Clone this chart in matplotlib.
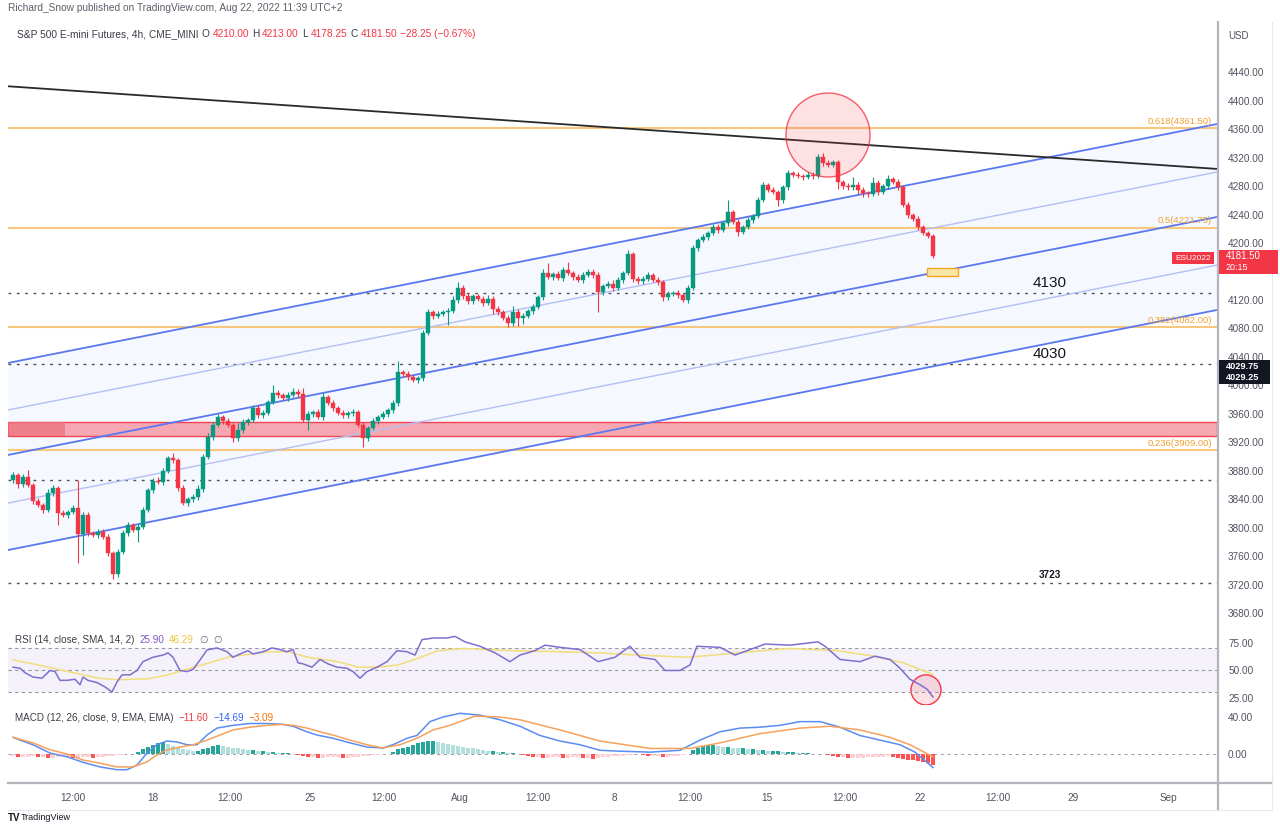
import matplotlib
matplotlib.use("Agg")
import matplotlib.pyplot as plt
from matplotlib.patches import Ellipse, Rectangle
from matplotlib.lines import Line2D

plt.rcParams['font.family'] = ['Liberation Sans', 'DejaVu Sans']

# ---------------- data ----------------
first_open = 3867
closes = [3874, 3862, 3872, 3860, 3838, 3832, 3825, 3849, 3856, 3821,
          3818, 3822, 3828, 3792, 3818, 3793, 3790, 3795, 3788, 3765,
          3735, 3766, 3793, 3804, 3797, 3802, 3825, 3853, 3866, 3865,
          3880, 3898, 3895, 3856, 3835, 3840, 3843, 3855, 3900, 3928,
          3945, 3956, 3950, 3945, 3926, 3937, 3949, 3952, 3968, 3958,
          3962, 3977, 3989, 3987, 3982, 3987, 3991, 3988, 3952, 3960,
          3963, 3956, 3984, 3975, 3968, 3962, 3958, 3961, 3963, 3945,
          3926, 3940, 3950, 3956, 3960, 3965, 3975, 4019, 4016, 4012,
          4008, 4010, 4074, 4103, 4098, 4101, 4103, 4105, 4120, 4137,
          4125, 4118, 4125, 4122, 4116, 4122, 4108, 4103, 4095, 4088,
          4103, 4095, 4098, 4105, 4110, 4124, 4158, 4152, 4156, 4151,
          4162, 4158, 4152, 4148, 4155, 4160, 4155, 4131, 4140, 4143,
          4137, 4148, 4158, 4184, 4150, 4146, 4150, 4155, 4148, 4145,
          4124, 4128, 4130, 4127, 4120, 4137, 4193, 4204, 4208, 4214,
          4222, 4218, 4228, 4244, 4230, 4216, 4222, 4232, 4238, 4260,
          4281, 4275, 4272, 4260, 4278, 4298, 4296, 4294, 4293, 4296,
          4294, 4321, 4312, 4310, 4313, 4286, 4280, 4278, 4282, 4274,
          4270, 4269, 4284, 4272, 4280, 4290, 4286, 4278, 4253, 4239,
          4234, 4222, 4214, 4210, 4181.5]
upper_wick = [4, 3, 4, 9, 3, 4, 3, 6, 4, 3,
              4, 3, 4, 39, 4, 5, 3, 4, 3, 4,
              3, 5, 4, 4, 3, 4, 4, 3, 4, 5,
              4, 3, 7, 3, 4, 3, 4, 5, 4, 5,
              4, 4, 3, 4, 3, 10, 4, 3, 5, 4,
              4, 3, 11, 4, 3, 4, 5, 4, 8, 4,
              3, 4, 6, 3, 4, 3, 4, 3, 4, 3,
              4, 3, 4, 3, 4, 3, 4, 15, 3, 4,
              3, 4, 4, 5, 3, 4, 3, 4, 6, 8,
              4, 5, 4, 3, 4, 5, 3, 4, 3, 4,
              8, 5, 4, 3, 4, 3, 5, 14, 4, 5,
              4, 12, 3, 4, 5, 4, 3, 4, 3, 4,
              5, 4, 3, 6, 3, 4, 3, 4, 3, 4,
              3, 4, 3, 4, 3, 4, 4, 3, 4, 3,
              5, 4, 3, 16, 3, 4, 3, 4, 3, 4,
              4, 3, 4, 3, 4, 5, 3, 4, 3, 4,
              3, 4, 5, 4, 3, 4, 3, 4, 10, 3,
              4, 3, 8, 4, 3, 5, 3, 4, 3, 4,
              3, 4, 3, 3, 3]
lower_wick = [4, 6, 4, 3, 4, 3, 4, 3, 4, 17,
              3, 4, 3, 41, 30, 4, 3, 4, 3, 4,
              7, 4, 3, 4, 3, 17, 4, 3, 4, 3,
              4, 3, 4, 4, 3, 4, 3, 4, 4, 3,
              4, 3, 4, 3, 6, 4, 3, 4, 3, 4,
              3, 4, 3, 4, 3, 4, 3, 4, 3, 15,
              4, 3, 4, 3, 4, 3, 4, 3, 4, 3,
              12, 4, 3, 4, 3, 4, 3, 4, 3, 4,
              3, 4, 4, 3, 4, 3, 4, 18, 3, 4,
              4, 3, 4, 3, 4, 3, 8, 4, 3, 6,
              4, 12, 8, 3, 4, 3, 4, 3, 4, 3,
              4, 3, 4, 3, 4, 3, 4, 28, 4, 3,
              4, 3, 4, 3, 5, 4, 3, 4, 3, 4,
              5, 4, 3, 4, 3, 4, 3, 4, 3, 4,
              3, 4, 3, 4, 3, 6, 4, 3, 4, 3,
              3, 4, 3, 8, 4, 3, 4, 3, 4, 3,
              4, 3, 4, 3, 4, 10, 4, 3, 4, 5,
              6, 4, 3, 4, 3, 4, 3, 4, 3, 4,
              3, 4, 3, 3, 3.25]

rsi_points = [(0, 53), (1.4, 52), (2.4, 48), (4, 44), (5.8, 43), (7.4, 50), (8.4, 49),
              (9.4, 41), (10.8, 41), (12.4, 42), (13.4, 37), (14, 44), (15, 41), (16.8, 39),
              (18.4, 35), (19.8, 30.5), (20.8, 39.5), (21.8, 46), (23.4, 46), (24.8, 50),
              (26, 58), (28, 62), (30, 64), (31, 66), (32, 62), (33.4, 50), (34.8, 49),
              (36, 51), (37.4, 59.5), (38.8, 68.6), (40.8, 70.5), (42.8, 67), (44, 62),
              (45.4, 65), (47, 68), (48, 65), (50, 67), (51.8, 70.5), (53.4, 69), (54.8, 67),
              (56, 69), (57, 57), (58, 56), (59.8, 53), (61.4, 60), (63, 56), (64.8, 53),
              (66.8, 52), (68, 49), (69.4, 43), (70.8, 49), (72.8, 53), (74.8, 58), (76.8, 68),
              (78.8, 67), (80.4, 64), (81.8, 78), (84, 79.5), (86.8, 79.5), (88.4, 81),
              (90.4, 76), (93.4, 72), (96.4, 66), (99.4, 58), (101.4, 64), (104.4, 68),
              (106.4, 73), (109.4, 71), (113.4, 69), (117, 58), (120.4, 62), (123.4, 72),
              (125.4, 62), (128.4, 60), (130.4, 50), (133.4, 50), (135.4, 55), (136.8, 72),
              (141.4, 71), (144.4, 64), (147.4, 69), (150.4, 74), (155.4, 73), (161, 76),
              (162.4, 72), (165.4, 60), (169.4, 58), (172.4, 63), (175.4, 60), (177.4, 52),
              (179.4, 42), (181.4, 37), (182.8, 33), (184, 25.9)]
rsi_sma_points = [(0, 59.5), (4, 56), (10, 50), (17, 43), (21, 41.5), (27, 42.5), (31, 46),
                  (37, 54), (43, 62), (51, 67), (55, 67), (59, 62), (65, 58), (69, 53),
                  (73, 53), (77, 55), (81, 61), (85, 68), (90, 70), (100, 68), (110, 67),
                  (117, 66), (125, 64), (135, 62), (145, 66), (155, 70), (165, 68),
                  (172, 63), (178, 57), (184, 46.3)]

macd_points = [(0, 18), (1.4, 15), (4, 10), (7.4, 1), (10.8, -3), (14, -9), (17.4, -14),
               (20.8, -17), (22.8, -17), (24.8, -12), (26.8, 1), (28.8, 10), (30.8, 14),
               (32.8, 13), (34.8, 10), (36.8, 10), (38.8, 20.5), (40.8, 28), (44, 31),
               (47.4, 33), (50.8, 33), (54, 32), (56, 30), (58.8, 24), (60.8, 20.5),
               (64, 17), (67.4, 12), (70.8, 7.5), (74, 6.5), (76, 10), (78.8, 17),
               (80.8, 20), (83.4, 35), (86, 40), (89.4, 44), (93.4, 42), (97.4, 37),
               (101.4, 30), (105.4, 20), (109.4, 14), (113.4, 10), (117.4, 4), (121.4, 3),
               (127.4, 2), (133.4, 4), (137.4, 15), (141.4, 24), (145.4, 28), (149.4, 29),
               (153.4, 31), (157.4, 35), (161.4, 35), (165.4, 29), (169.4, 20), (173.4, 15),
               (177.4, 10), (180.4, 2), (184, -14.69)]
signal_points = [(0, 18), (4, 12), (7.4, 4.5), (10.8, 0), (14, -6.5), (17.4, -10),
                 (20.8, -14), (24, -14), (26.8, -8.5), (28.8, -1), (30.8, 4.5), (33.4, 7.5),
                 (36, 10), (38.8, 15), (41.4, 20.5), (44, 26), (47.4, 29), (50.8, 31),
                 (54, 32), (56, 31), (58.8, 28), (61.4, 24), (64, 20.5), (67.4, 15),
                 (70.8, 10), (74, 6.5), (77.4, 10), (80.8, 17), (84, 26), (87.4, 31),
                 (92.4, 41), (97.4, 40), (101.4, 37), (109.4, 26), (117.4, 14), (127.4, 6),
                 (135.4, 6), (141.4, 12), (149.4, 22), (157.4, 28), (163.4, 30), (169.4, 26),
                 (175.4, 18), (179.4, 10), (184, -3.09)]
macd_hist = [-2, -3, -3, -3, -2, -3, -3, -4, -4, -3,
             -3, -3, -4, -4, -3, -3, -4, -3, -3, -2,
             -2, -1, -1, -0.5, 0.5, 2, 5, 8, 10, 12,
             13, 11, 9, 7, 5, 4, 3, 3, 5, 7,
             9, 10, 9, 8, 7, 6, 5, 4, 4, 3,
             3, 2, 2, 1, 1, 1, 0.5, -1, -2, -3,
             -3, -4, -4, -3, -3, -3, -4, -4, -3, -3,
             -2, -2, -1.5, -1, -0.5, 0.5, 2, 5, 7, 8,
             10, 12, 13, 14, 14, 13, 12, 11, 10, 9,
             8, 7, 6, 5, 4, 3, 3, 2, 2, 1,
             1, 0.5, -1, -2, -3, -3, -4, -4, -3, -3,
             -4, -4, -3, -3, -4, -4, -5, -4, -3, -3,
             -2, -2, -2, -1, -1, -0.5, -1, -2, -2, -2,
             -3, -3, -2, -2, -1, 0.5, 4, 7, 9, 10,
             10, 9, 8, 8, 7, 6, 6, 5, 5, 4,
             4, 3, 3, 3, 2, 2, 2, 1, 1, 1,
             0.5, 0.5, -0.5, -1, -2, -3, -3, -4, -4, -4,
             -4, -3, -3, -3, -3, -2, -3, -4, -5, -6,
             -7, -8, -9, -10, -11.6]

price_ticks = [3680, 3720, 3760, 3800, 3840, 3880, 3920, 3960, 4000, 4040, 4080,
               4120, 4200, 4240, 4280, 4320, 4360, 4400, 4440]
time_tick_pos = [12, 28, 43.4, 59.4, 74.2, 89.4, 105, 120.2, 135.4, 150.8, 166.4,
                 181.4, 197, 212, 231]
time_tick_labels = ['12:00', '18', '12:00', '25', '12:00', 'Aug', '12:00', '8', '12:00',
                    '15', '12:00', '22', '12:00', '29', 'Sep']

fib_levels = [4361.50, 4221.75, 4082.00, 3909.00]
fib_labels = ['0.618(4361.50)', '0.5(4221.75)', '0.382(4082.00)', '0.236(3909.00)']
dotted_levels = [4130, 4029.75, 3868, 3723]
level_notes = [('4130', 4130), ('4030', 4029.75), ('3723', 3723)]
channel_left = [4031.6, 3965.6, 3902.5, 3835.0, 3769.0]
channel_right = [4367.0, 4299.6, 4236.5, 4169.0, 4106.0]
trend_left, trend_right = 4420.0, 4304.0
zone_low, zone_high = 3929, 3949

# ---------------- layout helpers ----------------
W, H = 1280, 835
fig = plt.figure(figsize=(W / 100, H / 100), dpi=100)
fig.patch.set_facecolor('white')


def fx(px):
    return px / W


def fy(py):
    return 1 - py / H


def add_ax(top, bottom):
    return fig.add_axes([fx(8), fy(bottom), fx(1217) - fx(8), (bottom - top) / H])


ax = add_ax(25, 628)
rax = add_ax(628, 705)
max_ = add_ax(705, 783)

X0, X1 = -1, 240.8
for a in (ax, rax, max_):
    a.set_xlim(X0, X1)
    for s in a.spines.values():
        s.set_visible(False)
    a.set_facecolor('none')
    a.tick_params(axis='both', length=0, labelsize=7.2, labelcolor='#50535e')
    a.yaxis.tick_right()
    a.set_xticks([])

GREEN = '#089981'
RED = '#f23645'

# ---------------- main price panel ----------------
ax.set_ylim(3659.6, 4506)
ax.set_yticks(price_ticks)
ax.set_yticklabels([f'{v:.2f}' for v in price_ticks])
ax.tick_params(axis='y', pad=8)

xs_ch = [X0, X1]
ax.fill_between(xs_ch, [channel_left[0], channel_right[0]],
                [channel_left[4], channel_right[4]], color='#2962ff', alpha=0.045, lw=0, zorder=0)
ch_styles = [('#5a78ee', 1.3), ('#b4c0f5', 1.0), ('#5a78ee', 1.3), ('#b4c0f5', 1.0), ('#5a78ee', 1.3)]
for (l, r), (c, w) in zip(zip(channel_left, channel_right), ch_styles):
    ax.plot(xs_ch, [l, r], color=c, lw=w, zorder=2)
ax.plot(xs_ch, [trend_left, trend_right], color='#2a2a2a', lw=1.3, zorder=3)

for lev, lab in zip(fib_levels, fib_labels):
    ax.axhline(lev, color='#f7c77e', lw=1.5, zorder=1)
    ax.text(239.8, lev + 3, lab, ha='right', va='bottom', color='#f0a030', fontsize=6.8, zorder=5)

for lev in dotted_levels:
    ax.axhline(lev, color='#505050', lw=1.0, ls=(0, (2, 4)), zorder=1)

ax.add_patch(Rectangle((X0, zone_low), X1 - X0, zone_high - zone_low,
                       facecolor='#f7a0aa', edgecolor=RED, lw=1.0, alpha=0.9, zorder=1.5))
ax.add_patch(Rectangle((X0, zone_low), 11.4, zone_high - zone_low,
                       facecolor='#ee6e7d', edgecolor='none', alpha=0.7, zorder=1.6))

# candles
opens = [first_open] + closes[:-1]
for i, (o, c) in enumerate(zip(opens, closes)):
    col = GREEN if c >= o else RED
    hi = max(o, c) + upper_wick[i]
    lo = min(o, c) - lower_wick[i]
    ax.vlines(i, lo, hi, color=col, lw=0.8, zorder=4)
    h = abs(c - o) if abs(c - o) > 1.2 else 1.2
    ax.bar(i, h, bottom=min(o, c), width=0.72, color=col, edgecolor=col, lw=0.3, zorder=4.5)

ax.add_patch(Ellipse((163, 4351.6), 16.8, 117.9, facecolor=RED, alpha=0.15,
                     edgecolor='none', zorder=5))
ax.add_patch(Ellipse((163, 4351.6), 16.8, 117.9, facecolor='none',
                     edgecolor=RED, lw=1.0, alpha=0.8, zorder=5))
ax.add_patch(Rectangle((182.8, 4154), 6.2, 11, facecolor='#fde7a6', edgecolor='#f5a623',
                       lw=1.0, zorder=5))

note_sizes = {'4130': 11, '4030': 11, '3723': 7.2}
for txt, lev in level_notes:
    ax.text(207.4, lev + 4, txt, ha='center', va='bottom', fontsize=note_sizes[txt],
            color='#131722', fontweight='bold' if txt == '3723' else 'normal', zorder=6)

# ---------------- RSI panel ----------------
rax.set_ylim(18.6, 88.6)
rax.set_yticks([25, 50, 75])
rax.set_yticklabels(['25.00', '50.00', '75.00'])
rax.tick_params(axis='y', pad=8)
rax.axhspan(30, 70, color='#7e57c2', alpha=0.08, lw=0)
for lev in (70, 50, 30):
    rax.axhline(lev, color='#9598a1', lw=0.8, ls=(0, (3, 3)))
rax.plot([p[0] for p in rsi_sma_points], [p[1] for p in rsi_sma_points], color='#f3dc7a', lw=1.1)
rax.plot([p[0] for p in rsi_points], [p[1] for p in rsi_points], color='#7e6fd0', lw=1.1)
rax.add_patch(Ellipse((182.6, 32.3), 6.0, 27.3, facecolor=RED, alpha=0.15, edgecolor='none'))
rax.add_patch(Ellipse((182.6, 32.3), 6.0, 27.3, facecolor='none', edgecolor=RED, lw=1.0))

# ---------------- MACD panel ----------------
max_.set_ylim(-31.4, 53)
max_.set_yticks([0, 40])
max_.set_yticklabels(['0.00', '40.00'])
max_.tick_params(axis='y', pad=8)
max_.axhline(0, color='#9598a1', lw=0.7, ls=(0, (3, 4)))
hcols = []
for i, v in enumerate(macd_hist):
    prev = macd_hist[i - 1] if i > 0 else v
    if v >= 0:
        hcols.append('#26a69a' if v >= prev else '#b2dfdb')
    else:
        hcols.append('#ffcdd2' if v >= prev else '#ff5252')
max_.bar(range(len(macd_hist)), macd_hist, width=0.7, color=hcols, zorder=2)
max_.plot([p[0] for p in macd_points], [p[1] for p in macd_points], color='#5b8cf0', lw=1.1, zorder=3)
max_.plot([p[0] for p in signal_points], [p[1] for p in signal_points], color='#f7a15a', lw=1.1, zorder=3)
max_.set_xticks(time_tick_pos)
max_.set_xticklabels(time_tick_labels)
max_.tick_params(axis='x', pad=7, labelsize=7.2, labelcolor='#50535e')

# ---------------- frame lines ----------------
fig.add_artist(Line2D([fx(1218), fx(1218)], [fy(22), fy(810)], color='#b2b5be', lw=1.6))
fig.add_artist(Line2D([fx(8), fx(1272)], [fy(783), fy(783)], color='#b2b5be', lw=1.6))
fig.add_artist(Line2D([fx(1272), fx(1272)], [fy(22), fy(810)], color='#e6e8ee', lw=0.8))
fig.add_artist(Line2D([fx(8), fx(1272)], [fy(810), fy(810)], color='#e6e8ee', lw=0.8))

# ---------------- texts ----------------
renderer = fig.canvas.get_renderer()


def seq_text(x_px, y_px, pieces, fs=7.1, gap=3):
    x = x_px
    for s, col in pieces:
        t = fig.text(fx(x), fy(y_px), s, color=col, fontsize=fs, va='center', ha='left')
        x += t.get_window_extent(renderer=renderer).width + gap


fig.text(fx(8), fy(8), 'Richard_Snow published on TradingView.com, Aug 22, 2022 11:39 UTC+2',
         fontsize=7.3, color='#5d606b', va='center')
seq_text(17, 34, [('S&P 500 E-mini Futures, 4h, CME_MINI', '#3a3d46'),
                  ('O', '#3a3d46'), ('4210.00', RED), ('H', '#3a3d46'), ('4213.00', RED),
                  ('L', '#3a3d46'), ('4178.25', RED), ('C', '#3a3d46'), ('4181.50', RED),
                  ('\u221228.25 (\u22120.67%)', RED)], fs=7.3, gap=3)
seq_text(15, 640, [('RSI (14, close, SMA, 14, 2)', '#3a3d46'), ('25.90', '#7e57c2'),
                   ('46.29', '#e8c440'), ('\u2205', '#6a6d78'), ('\u2205', '#6a6d78')], gap=5)
seq_text(15, 718, [('MACD (12, 26, close, 9, EMA, EMA)', '#3a3d46'), ('\u221211.60', RED),
                   ('\u221214.69', '#2962ff'), ('\u22123.09', '#ff6d00')], gap=5)
fig.text(fx(1228), fy(36), 'USD', fontsize=7, color='#50535e', va='center')
fig.text(fx(8), fy(818), 'TV', fontsize=7, color='#131722', va='center', fontweight='bold')
fig.text(fx(21), fy(818), 'TradingView', fontsize=6.5, color='#131722', va='center')

# price label boxes on right axis
fig.add_artist(Rectangle((fx(1219), fy(274)), fx(1278) - fx(1219), (274 - 250) / H,
                         facecolor=RED, edgecolor='none', zorder=10))
fig.text(fx(1226), fy(256), '4181.50', fontsize=7, color='white', va='center', zorder=11)
fig.text(fx(1226), fy(268), '20:15', fontsize=6.5, color='white', va='center', zorder=11)
fig.add_artist(Rectangle((fx(1172), fy(264)), fx(1214) - fx(1172), 12 / H,
                         facecolor=RED, edgecolor='none', zorder=10))
fig.text(fx(1193), fy(258), 'ESU2022', fontsize=6.0, color='white', va='center', ha='center', zorder=11)
for yc, lab in [(366, '4029.75'), (378, '4029.25')]:
    fig.add_artist(Rectangle((fx(1219), fy(yc + 6)), fx(1270) - fx(1219), 12 / H,
                             facecolor='#131722', edgecolor='none', zorder=10))
    fig.text(fx(1226), fy(yc), lab, fontsize=6.6, color='white', va='center', zorder=11,
             fontweight='bold')

fig.savefig('out.png', dpi=100, facecolor='white')
